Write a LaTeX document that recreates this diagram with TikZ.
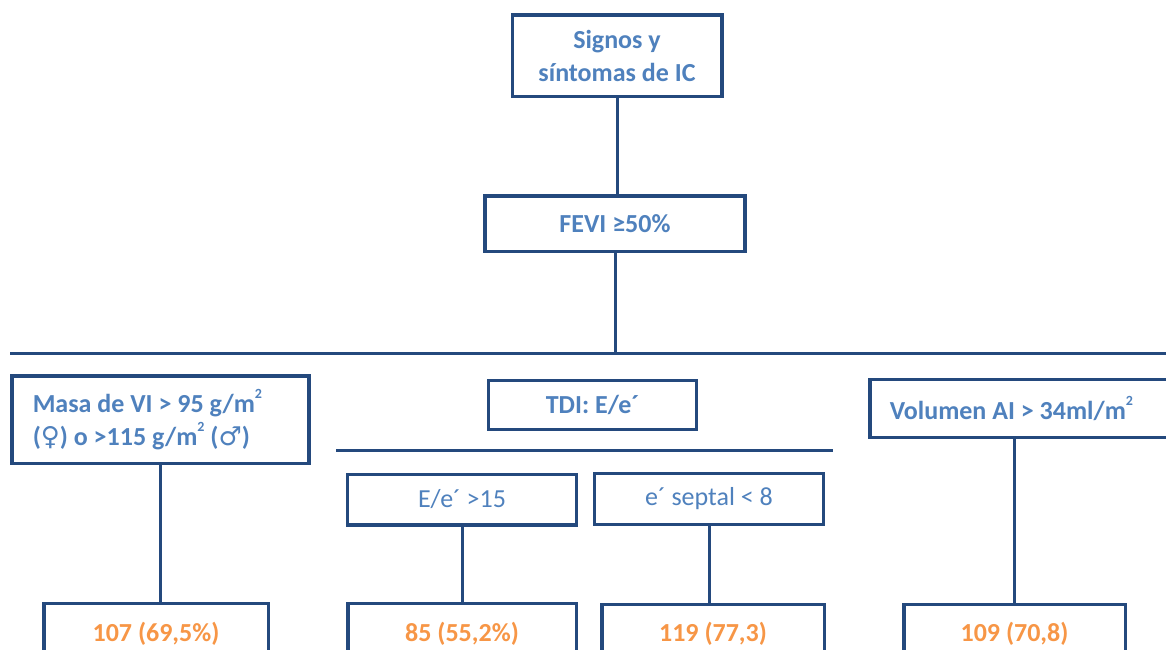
\documentclass[tikz,border=0pt]{standalone}
\usepackage{fontspec}
\setmainfont{Carlito}
\newfontfamily\simbolos{DejaVu Sans}
\usetikzlibrary{calc}
\definecolor{azulcaja}{HTML}{24497D}
\definecolor{azultexto}{HTML}{4F81BD}
\definecolor{naranja}{HTML}{F79646}
\newcommand\alcuadrado{\raisebox{1.15ex}{\fontsize{14}{14}\selectfont 2}}

\begin{document}
\begin{tikzpicture}[x=1pt,y=-1pt,
  caja/.style={draw=azulcaja, line width=3.5pt, fill=white, inner sep=0pt, text=azultexto,
    font=\fontsize{26}{33}\selectfont\bfseries, align=center},
  cajafina/.style={caja, font=\fontsize{26}{33}\selectfont},
  resultado/.style={caja, text=naranja, anchor=north, minimum height=60pt},
  conector/.style={draw=azulcaja, line width=3pt}]
% Marco de la figura
\useasboundingbox (0,0) rectangle (1166,649);
\clip (0,0) rectangle (1166,649);

% Cajas superiores
\node[caja, minimum width=209.5pt, minimum height=81.5pt] (sig) at (617,55.5) {Signos y\\síntomas de IC};
\node[caja, minimum width=260pt, minimum height=55.5pt] (fevi) at (615,223.5) {FEVI ≥50\%};

% Líneas horizontales
\coordinate (hizq) at (10,353);
\coordinate (hder) at (1170,353);
\coordinate (tizq) at (336,450.5);
\coordinate (tder) at (833,450.5);

% Criterios
\node[caja, text width=255pt, inner xsep=21pt, minimum height=87.5pt, align=flush left] (masa) at (160.25,419.5)
  {Masa de VI > 95 g/m\alcuadrado\\({\simbolos\mdseries ♀}) o >115 g/m\alcuadrado{} ({\simbolos\mdseries ♂})};
\node[caja, minimum width=208pt, minimum height=49pt] (tdi) at (592.5,405) {TDI: E/e´};
\node[cajafina, minimum width=229pt, minimum height=50.5pt] (ee) at (462,499.5) {E/e´ >15};
\node[cajafina, minimum width=229pt, minimum height=51pt] (sep) at (709,499) {e´ septal < 8};
\node[caja, text width=260pt, inner xsep=20pt, minimum height=58pt, align=flush left] (vol) at (1019.75,408.5)
  {Volumen AI > 34ml/m\alcuadrado};

% Resultados
\node[resultado, minimum width=224.5pt] (r107) at (156,601.75) {107 (69,5\%)};
\node[resultado, minimum width=228.5pt] (r85) at (462,601.75) {85 (55,2\%)};
\node[resultado, minimum width=222.5pt] (r119) at (713,602.5) {119 (77,3)};
\node[resultado, minimum width=221.5pt] (r109) at (1014.5,602.5) {109 (70,8)};

% Conectores
\draw[conector] (sig.south) -- (sig.south |- fevi.north);
\draw[conector] (fevi.south) -- (fevi.south |- hizq);
\draw[conector] (hizq) -- (hder);
\draw[conector] (tizq) -- (tder);
\draw[conector] (masa.south) -- (masa.south |- r107.north);
\draw[conector] (ee.south) -- (ee.south |- r85.north);
\draw[conector] (sep.south) -- (sep.south |- r119.north);
\draw[conector] (r109.north) -- (r109.north |- vol.south);
\end{tikzpicture}
\end{document}
